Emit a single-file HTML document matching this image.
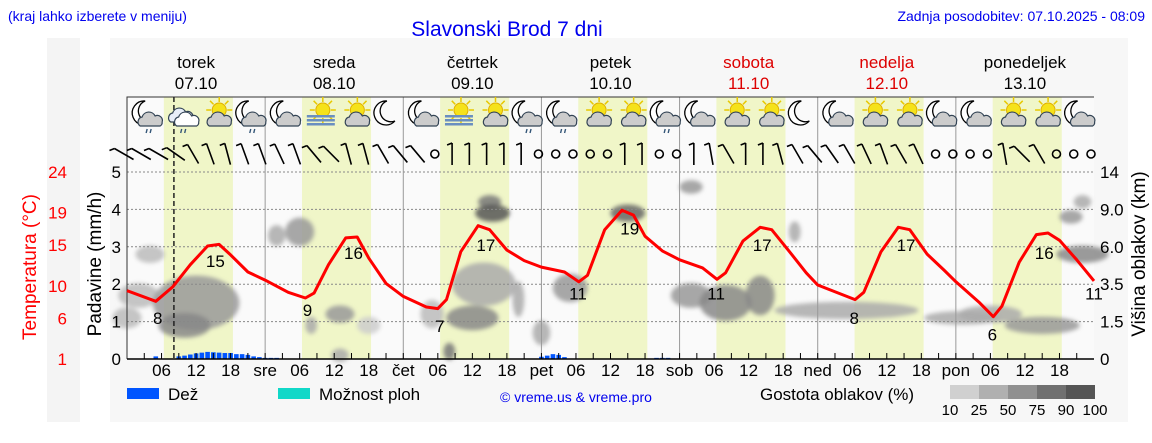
<!DOCTYPE html>
<html><head><meta charset="utf-8">
<style>
body{margin:0;background:#fff;width:1152px;height:443px;overflow:hidden;font-family:"Liberation Sans",sans-serif}
svg{position:absolute;left:0;top:0}
</style></head>
<body>
<svg id="chart" width="1152" height="443" viewBox="0 0 1152 443">
<defs><filter id="blur" x="-50%" y="-50%" width="200%" height="200%"><feGaussianBlur stdDeviation="2"/></filter></defs>
<rect x="47" y="38" width="33" height="384" fill="#f4f4f4"/>
<rect x="110" y="38" width="1018" height="384" fill="#f7f7f7"/>
<text x="8" y="21" font-size="14" fill="#0000ee">(kraj lahko izberete v meniju)</text>
<text x="507" y="36" font-size="21" fill="#0000ee" text-anchor="middle">Slavonski Brod 7 dni</text>
<text x="1145" y="21" font-size="14" fill="#0000ee" text-anchor="end">Zadnja posodobitev: 07.10.2025 - 08:09</text>
<g id="g"></g>
</svg>
<script>
const dayNames=["torek","sreda","četrtek","petek","sobota","nedelja","ponedeljek"];
const dayDates=["07.10","08.10","09.10","10.10","11.10","12.10","13.10"];
const dayAbbr=["","sre","čet","pet","sob","ned","pon"];
const tempHours=[0,5,8,11,14,16,18,21,24,28,31,32.5,35,38,40,42,45,48,52,54,55.5,58,61,63,66,69,72,76,78.5,80,83,86,88,90,93,96,100,102.5,104,107,110,112,115,118,120,124,126.5,128,131,134,136,139,142,144,148,150.5,152,155,158,160,162,165,168];
const temps=[9.4,8.1,9.9,12.6,14.9,15.1,13.8,11.7,10.7,9.2,8.5,9.1,12.6,15.9,16.0,13.4,10.3,8.7,7.4,7.2,8.3,14.2,17.4,16.9,14.4,13.1,12.3,11.7,10.5,11.3,16.9,19.3,18.7,16.1,14.3,13.2,12.2,10.8,11.6,15.5,17.2,16.9,14.3,11.6,10.1,9.0,8.3,9.2,14.2,17.2,16.9,13.9,11.9,10.5,8.0,6.2,7.5,12.9,16.3,16.5,15.6,13.2,10.6];
const labelHours=[5,15,31,39,54,62,78,87,102,110,126,135,150,159,168];
const labelTemps=[8,15,9,16,7,17,11,19,11,17,8,17,6,16,11];
const rainHours=[5,9,10,11,12,13,14,15,16,17,18,19,20,21,22,23,24,25,26,72,73,74,75,76,92,93,94];
const rainVals=[0.07,0.07,0.09,0.12,0.15,0.17,0.19,0.18,0.17,0.16,0.16,0.13,0.13,0.11,0.07,0.05,0.03,0.03,0.03,0.06,0.09,0.13,0.11,0.05,0.03,0.03,0.03];
const tempTicks=[1,6,10,15,19,24];
const rainTicks=[0,1,2,3,4,5];
const cloudTicks=["0","1.5","3.5","6.0","9.0","14"];
const cloudH=[2,4,12,10,0,26,30,32,37,42,37,53,56,60,62,63,63.5,68,72,77,87,98,98,104,110,116,125,145,150,159,164,166,166];
const cloudY=[1.7,2.8,1.5,0.9,1.1,3.3,3.4,0.9,1.2,0.9,0.1,1.2,0.2,1.1,2.0,4.2,3.9,1.6,0.7,1.9,3.9,4.6,1.7,1.5,1.7,3.4,1.3,1.1,1.2,0.9,3.8,4.2,2.8];
const cloudW=[6,4,14,8,4,2,4,1,4,3,2,3,1,8,10,3,5,1,2,5,5,3,6,8,4,1,24,12,10,12,3,2,8];
const cloudV=[0.5,0.3,1.3,0.5,0.4,0.4,0.6,0.3,0.3,0.3,0.2,0.6,0.3,0.5,1.0,0.2,0.3,0.8,0.5,0.6,0.3,0.2,0.5,0.8,0.9,0.4,0.3,0.2,0.3,0.3,0.2,0.2,0.3];
const cloudS=["#bbb","#bbb","#999","#888","#bbb","#aaa","#999","#aaa","#999","#ccc","#aaa","#bbb","#777","#888","#aaa","#777","#555","#aaa","#aaa","#999","#666","#999","#999","#888","#888","#aaa","#aaa","#aaa","#aaa","#999","#999","#aaa","#888"];
const iconTypes=["nr","cr","sc","nr","nc","fog","sc","n","nc","fog","sc","nr","nr","sc","sc","nr","nc","sc","sc","n","nc","sc","sc","nc","nc","sc","sc","nc"];
const windAngles=[60,60,60,55,30,20,15,20,20,25,20,40,45,15,15,30,40,40,30,0,0,0,0,0,0,0,0,0,10,0,0,0,0,0,10,30,0,0,15,30,40,35,30,25,20,30,25,0,0,0,0,10,45,30,0,0,0,0,0,0,60,40,30,30,25,20];
const windCalm=[0,0,0,0,0,0,0,0,0,0,0,0,0,0,0,0,0,0,1,0,0,0,0,0,1,1,1,1,1,0,0,1,1,0,0,0,0,0,0,0,0,0,0,0,0,0,0,1,1,1,1,0,0,0,1,1,1,1,1,1,0,0,0,0,0,0];

const X0=127,X1=1094,Y0=359,PX=(X1-X0)/168;
const xs=h=>X0+h*PX;
const yr=v=>Y0-v*37.4;
const yt=t=>Y0-(t-1)*187/23;
const NS="http://www.w3.org/2000/svg";
const g=document.getElementById('g');
function el(tag,a,parent){const e=document.createElementNS(NS,tag);for(const k in a)e.setAttribute(k,a[k]);(parent||g).appendChild(e);return e;}

let pb=el('rect',{x:X0,y:97,width:X1-X0,height:Y0-97,fill:'#fafafa'});


for(let d=0;d<7;d++){
  const b=el('rect',{x:xs(d*24+6.4),y:97,width:12*PX,height:Y0-97,fill:'#f0f6c8'});
  
  
}
const cg=el('g',{filter:'url(#blur)'});


for(let i=0;i<cloudH.length;i++){
  const c=el('ellipse',{cx:xs(cloudH[i]),cy:yr(cloudY[i]),rx:cloudW[i]*PX/2+3,ry:cloudV[i]*37.4/2+3,fill:cloudS[i],opacity:0.85},cg);
  
  
}
for(let v=1;v<=5;v++){
  const l=el('line',{x1:X0,x2:X1,y1:yr(v),y2:yr(v),stroke:'#888','stroke-width':1,'stroke-dasharray':'2,2'});
  
  
}
for(let d=1;d<7;d++){
  const l=el('line',{x1:xs(d*24),x2:xs(d*24),y1:97,y2:Y0,stroke:'#999','stroke-width':1});
  
  
}
let fr=el('path',{d:`M${X0} ${Y0}V97H${X1}`,stroke:'#333',fill:'none','stroke-width':1});


for(let i=0;i<rainHours.length;i++){
  const b=el('rect',{x:xs(rainHours[i])-2.3,y:yr(rainVals[i]),width:4.6,height:rainVals[i]*37.4,fill:'#0055ff'});
  
  
}
let nl=el('line',{x1:xs(8.15),x2:xs(8.15),y1:97,y2:Y0,stroke:'#222','stroke-width':1.5,'stroke-dasharray':'5,3'});


let pts=tempHours.map((h,i)=>xs(h).toFixed(1)+','+yt(temps[i]).toFixed(1)).join(' ');
let tl=el('polyline',{points:pts,fill:'none',stroke:'#ff0000','stroke-width':3,'stroke-linejoin':'round'});


for(let i=0;i<labelHours.length;i++){
  const t=el('text',{x:xs(labelHours[i])+(i==labelHours.length-1?0:2),y:yt(labelTemps[i])+22,'font-size':17,'text-anchor':'middle',fill:'#000'});
  t.textContent=labelTemps[i];
  
  
}
let bl=el('line',{x1:X0,x2:X1,y1:Y0,y2:Y0,stroke:'#000','stroke-width':1.5});


for(let h=3;h<168;h+=3){
  const t=el('line',{x1:xs(h),x2:xs(h),y1:Y0,y2:Y0-6,stroke:'#000'});
  
  
}
for(let h=6;h<168;h+=6){
  const r=h%24;let s=r==0?dayAbbr[h/24]:(r<10?'0'+r:''+r);
  const t=el('text',{x:xs(h),y:376,'font-size':17,'text-anchor':'middle',fill:'#000'});
  t.textContent=s;
  
  
}
for(let d=0;d<7;d++){
  const col=d>=4&&d<=5?'#dd0000':'#000';
  const a=el('text',{x:xs(d*24+12),y:68,'font-size':17,'text-anchor':'middle',fill:col});
  a.textContent=dayNames[d];
  
  
  const b=el('text',{x:xs(d*24+12),y:89,'font-size':17,'text-anchor':'middle',fill:col});
  b.textContent=dayDates[d];
  
  
}
for(let i=0;i<tempTicks.length;i++){
  const t=el('text',{x:67,y:yt(tempTicks[i])+6,'font-size':17,'text-anchor':'end',fill:'#ff0000'});
  t.textContent=tempTicks[i];
  
  
  const r=el('text',{x:121,y:yr(rainTicks[i])+6,'font-size':17,'text-anchor':'end',fill:'#000'});
  r.textContent=rainTicks[i];
  
  
  const c=el('text',{x:1100,y:yr(i)+6,'font-size':17,fill:'#000'});
  c.textContent=cloudTicks[i];
  
  
}
let at=el('text',{transform:'translate(36,267) rotate(-90)','font-size':19,'text-anchor':'middle',fill:'#ff0000'});
at.textContent='Temperatura (°C)';


let ap=el('text',{transform:'translate(101,264) rotate(-90)','font-size':19,'text-anchor':'middle',fill:'#000'});
ap.textContent='Padavine (mm/h)';


let ac=el('text',{transform:'translate(1145,254) rotate(-90)','font-size':19,'text-anchor':'middle',fill:'#000'});
ac.textContent='Višina oblakov (km)';


for(let i=0;i<windAngles.length&&i<57;i++){
  const x=xs(i*3)-3,y=152;
  if(windCalm[i]){
    const c=el('circle',{cx:x,cy:y+2,r:4,fill:'none',stroke:'#000','stroke-width':1.6});
    
    
  }else{
    const a=windAngles[i]*Math.PI/180,L=22;
    const dx=Math.sin(a)*L,dy=Math.cos(a)*L;
    const p=el('path',{d:`M${x-dx/2} ${y-dy/2+2}L${x+dx/2} ${y+dy/2+2}M${x-dx/2} ${y-dy/2+2}l-5 2`,stroke:'#000','stroke-width':1.6,fill:'none'});
    
    
  }
}
function cloud(x,y,f,p){el('path',{d:`M${x-11} ${y+6}a5 5 0 0 1 2-9a7 7 0 0 1 13-1a5 5 0 0 1 7 6a4 4 0 0 1-2 4z`,fill:f,stroke:'#345',"stroke-width":1.2},p);}
for(let i=0;i<iconTypes.length;i++){
  const x=xs(i*6+3.5),y=115,t=iconTypes[i];
  const ig=el('g',{});
  
  
  if(t[0]=='n'){el('path',{d:`M${x-2} ${y-14}a12 12 0 1 0 8 20a10 10 0 0 1-8-20z`,fill:'#fff',stroke:'#000','stroke-width':1.3},ig);}
  if(t=='sc'||t=='fog'){for(let k=0;k<8;k++){const a=k*Math.PI/4;el('line',{x1:x+3+Math.cos(a)*8,y1:y-5+Math.sin(a)*8,x2:x+3+Math.cos(a)*13,y2:y-5+Math.sin(a)*13,stroke:'#e8c800','stroke-width':1.5},ig);}el('circle',{cx:x+3,cy:y-5,r:7,fill:'#f5e21a',stroke:'#e0b000'},ig);}
  if(t=='nr'||t=='nc'||t=='sc'){cloud(x+4,y+5,'#ccc',ig);}
  if(t=='cr'){cloud(x,y+1,'#e8eef8',ig);cloud(x+6,y+5,'#fff',ig);}
  if(t=='nr'||t=='cr'){el('path',{d:`M${x} ${y+14}l-1 4M${x+4} ${y+14}l-1 4`,stroke:'#357','stroke-width':1.4},ig);}
  if(t=='fog'){for(let k=0;k<3;k++)el('rect',{x:x-13,y:y+k*4,width:28,height:2.5,fill:'#6a8fc0'},ig);}
}
let l1=el('rect',{x:127,y:388,width:32,height:11,fill:'#0055ff'});


let l2=el('text',{x:168,y:400,'font-size':17});l2.textContent='Dež';


let l3=el('rect',{x:278,y:388,width:32,height:11,fill:'#11d8c8'});


let l4=el('text',{x:319,y:400,'font-size':17});l4.textContent='Možnost ploh';


let l5=el('text',{x:500,y:402,'font-size':14,fill:'#0000ee'});l5.textContent='© vreme.us & vreme.pro';


let l6=el('text',{x:760,y:400,'font-size':17});l6.textContent='Gostota oblakov (%)';


const dens=["10","25","50","75","90","100"];
const shades=["#d0d0d0","#b0b0b0","#909090","#707070","#555555"];
for(let i=0;i<5;i++){
  const r=el('rect',{x:950+i*29,y:385,width:29,height:14,fill:shades[i]});
  
  
}
for(let i=0;i<6;i++){
  const t=el('text',{x:950+i*29,y:415,'font-size':15,'text-anchor':'middle'});t.textContent=dens[i];
  
  
}
</script>
</body></html>
